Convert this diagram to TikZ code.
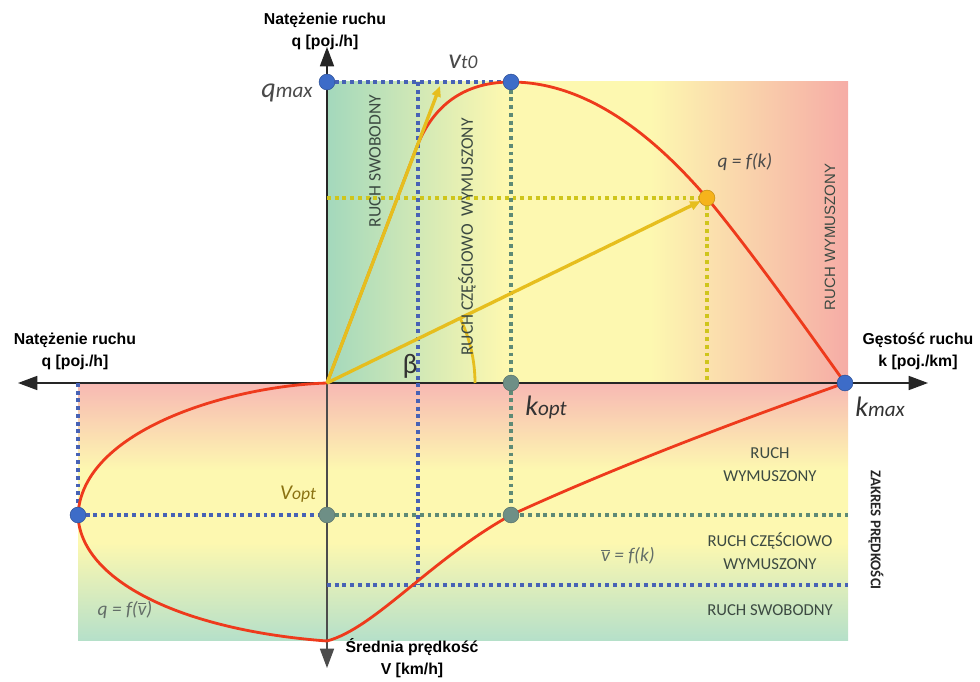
\documentclass[tikz,border=0pt]{standalone}
\usepackage{fontspec}
\setmainfont{Carlito}
\newfontfamily\osfont{Liberation Sans}
\usetikzlibrary{arrows.meta,positioning}

\definecolor{zielony}{HTML}{A3D8BC}
\definecolor{zolty}{HTML}{FDF8B0}
\definecolor{rozowy}{HTML}{F6ACA6}
\definecolor{czerwony}{HTML}{EE3A1C}
\definecolor{niebieski}{HTML}{3D6CC8}
\definecolor{szary}{HTML}{6E8F86}
\definecolor{kropki}{HTML}{4762B5}
\definecolor{kropkiz}{HTML}{5E8A76}
\definecolor{zloty}{HTML}{E6BE1E}
\definecolor{pomaranczowy}{HTML}{F6B31B}
\definecolor{opisy}{HTML}{4A4A4A}
\definecolor{strefy}{HTML}{3C4A42}

\pgfdeclarehorizontalshading{pasgora}{100bp}{color(0bp)=(zielony); color(25bp)=(zielony);
  color(42bp)=(zolty); color(56bp)=(zolty); color(75bp)=(rozowy); color(100bp)=(rozowy)}
\pgfdeclareverticalshading{pasdol}{100bp}{color(0bp)=(zielony!80!white); color(25bp)=(zielony!80!white);
  color(44bp)=(zolty); color(58bp)=(zolty); color(75bp)=(rozowy!85!white); color(100bp)=(rozowy!85!white)}

\begin{document}
\begin{tikzpicture}[
  x=0.02cm, y=-0.02cm,
  font=\fontsize{9}{11}\selectfont,
  os/.style={-{Triangle[length=11pt,width=8pt]}, line width=0.8pt, black!85},
  krzywa/.style={czerwony, line width=1.6pt},
  kreska/.style={kropki, line width=2.2pt, dash pattern=on 2.2pt off 2.2pt},
  kreskaz/.style={kreska, kropkiz},
  kreskazl/.style={kreska, zloty!90!green},
  kropka/.style={circle, fill=niebieski, draw=niebieski!75!black, line width=0.3pt,
                 inner sep=0pt, minimum size=9pt},
  kropkas/.style={kropka, fill=szary, draw=szary!80!black},
  strzalka/.style={zloty, line width=1.9pt, -{Triangle[length=6pt,width=5pt]}},
  tytul/.style={font=\osfont\bfseries\fontsize{9}{12.5}\selectfont, align=center},
  strefa/.style={text=strefy, align=center, font=\fontsize{10}{12}\selectfont},
  symbol/.style={text=opisy, font=\itshape}
]
\useasboundingbox (0,0) rectangle (980,682);

% tla stref ruchu
\shade[shading=pasgora] (327,82) rectangle (848,383);
\shade[shading=pasdol] (78,383) rectangle (848,640);

% punkty charakterystyczne
\coordinate (O) at (327,383);
\coordinate (Qm) at (327,82);
\coordinate (Sz) at (511,82);
\coordinate (Ko) at (511,383);
\coordinate (Km) at (845,383);
\coordinate (Ql) at (78,515);
\coordinate (Vo) at (327,515);
\coordinate (Vk) at (511,515);
\coordinate (Vd) at (327,641);
\coordinate (Qk) at (707,198);
\coordinate (Vt) at (440,86);

% osie
\draw[os] (O) -- (327,47);
\draw[os, black!70] (O) -- (327,668);
\draw[os] (O) -- (18,383);
\draw[os] (O) -- (928,383);

% linie pomocnicze
\draw[kreska] (Qm) -- (Sz);
\draw[kreska] (418,82) -- (418,585);
\draw[kreskaz] (Sz) -- (Ko);
\draw[kreskaz] (Ko) -- (Vk);
\draw[kreska] (78,383) -- (Ql);
\draw[kreska] (Ql) -- (Vo);
\draw[kreskaz] (Vo) -- (848,515);
\draw[kreska] (327,585) -- (848,585);
\draw[kreskazl] (327,198) -- (Qk);
\draw[kreskazl] (Qk) -- (707,383);

% krzywe
\draw[krzywa] (O) -- (415.6,150) .. controls (434,100) and (470,82) .. (Sz)
  .. controls (575,82) and (640,120) .. (Qk) .. controls (750,250) and (800,320) .. (Km);
\draw[krzywa] (O) .. controls (230,386) and (82,430) .. (Ql)
  .. controls (80,580) and (180,630) .. (Vd);
\draw[krzywa] (Vd) .. controls (375,628) and (430,560) .. (Vk)
  .. controls (620,465) and (740,420) .. (Km);

% predkosci
\draw[strzalka] (O) -- (Vt);
\draw[strzalka, shorten >=4pt] (O) -- (Qk);
\draw[zloty, line width=1.6pt] (475,383) arc[start angle=0, end angle=-26, radius=148];

% kropki
\node[kropka] (qmax) at (Qm) {};
\node[kropka] (szczyt) at (Sz) {};
\node[kropkas] (kopt) at (Ko) {};
\node[kropka] (kmax) at (Km) {};
\node[kropka] (qlewe) at (Ql) {};
\node[kropkas] (vopt) at (Vo) {};
\node[kropkas] (vk) at (Vk) {};
\node[kropka, fill=pomaranczowy, draw=pomaranczowy!80!black] (qk) at (Qk) {};

% opisy osi
\node[tytul] (tq) at (325,31) {Natężenie ruchu\\q [poj./h]};
\node[tytul] (tl) at (75,351) {Natężenie ruchu\\q [poj./h]};
\node[tytul] (tk) at (918,351) {Gęstość ruchu\\k [poj./km]};
\node[tytul] (tv) at (412,658) {Średnia prędkość\\V [km/h]};

% symbole
\node[symbol] (lqmax) at (287,93) {{\fontsize{16}{16}\selectfont q}{\fontsize{12}{12}\selectfont max}};
\node[symbol] (lvt) at (463,62) {{\fontsize{16}{16}\selectfont v}{\fontsize{11}{11}\selectfont t0}};
\node[symbol, text=black!80] (lkopt) at (546,407) {{\fontsize{16}{16}\selectfont k}{\fontsize{12}{12}\selectfont opt}};
\node[symbol, text=black!80] (lkmax) at (880,407) {{\fontsize{16}{16}\selectfont k}{\fontsize{12}{12}\selectfont max}};
\node[symbol, text=zloty!60!black] (lvopt) at (298,494) {{\fontsize{12}{12}\selectfont V}{\fontsize{10}{10}\selectfont opt}};
\node[text=black!80, font=\fontsize{16}{16}\selectfont] (beta) at (410,366) {β};
\node[symbol, font=\itshape\fontsize{11}{11}\selectfont] (lqk) at (745,162) {q = f(k)};
\node[symbol, text=strefy!80, font=\itshape\fontsize{11}{11}\selectfont] (lvk) at (628,556)
  {$\overline{\hbox{\itshape v}}$ = f(k)};
\node[symbol, text=strefy!80, font=\itshape\fontsize{11}{11}\selectfont] (lqv) at (125,610)
  {q = f($\overline{\hbox{\itshape v}}$)};

% strefy ruchu
\node[strefa, rotate=90] (s1) at (375,161) {RUCH SWOBODNY};
\node[strefa, rotate=90] (s2) at (467,237) {RUCH CZĘŚCIOWO\ \ WYMUSZONY};
\node[strefa, rotate=90, font=\osfont\fontsize{8.5}{10}\selectfont] (s3) at (830,237) {RUCH WYMUSZONY};
\node[strefa, font=\fontsize{9.5}{13}\selectfont] (d1) at (770,465) {RUCH\\WYMUSZONY};
\node[strefa, font=\fontsize{9.5}{13}\selectfont] (d2) at (770,551) {RUCH CZĘŚCIOWO\\WYMUSZONY};
\node[strefa, font=\fontsize{9.5}{13}\selectfont] (d3) at (770,610) {RUCH SWOBODNY};
\node[strefa, rotate=-90, text=black!85, font=\bfseries\fontsize{8.5}{10}\selectfont] (zakres) at (876,530) {ZAKRES PRĘDKOŚCI};
\end{tikzpicture}
\end{document}
